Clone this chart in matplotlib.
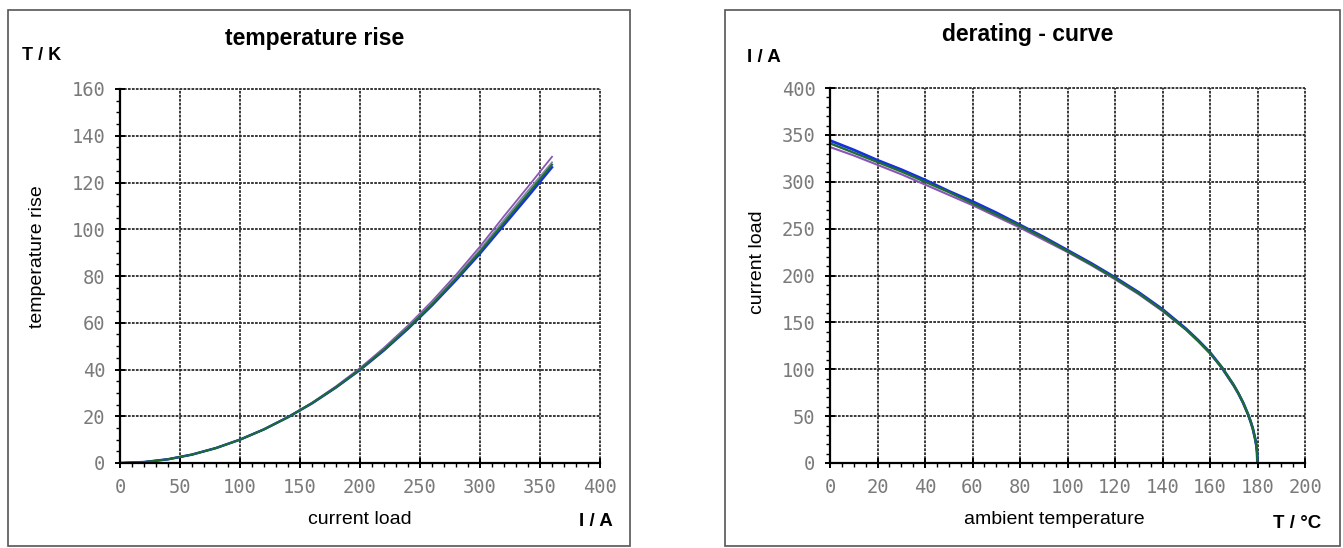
import matplotlib.pyplot as plt
from matplotlib.patches import Rectangle
from matplotlib.ticker import MultipleLocator

# temperature rise vs current load
current = [0, 20, 40, 60, 80, 100, 120, 140, 160, 180, 200, 220, 240, 260, 280, 300, 320, 340, 360]
rise_purple = [0, 0.4, 1.6, 3.6, 6.4, 10.0, 14.4, 19.7, 25.8, 32.8, 40.6, 49.3, 58.8, 69.2, 80.5, 92.6, 105.6, 118.2, 131.0]
rise_gray = [0, 0.4, 1.6, 3.6, 6.4, 10.0, 14.4, 19.6, 25.6, 32.5, 40.2, 48.8, 58.2, 68.4, 79.5, 91.3, 104.0, 116.5, 128.6]
rise_green = [0, 0.4, 1.6, 3.6, 6.4, 10.0, 14.4, 19.6, 25.6, 32.4, 40.0, 48.5, 57.8, 67.9, 78.8, 90.4, 102.8, 115.2, 127.6]
rise_blue = [0, 0.4, 1.6, 3.6, 6.4, 10.0, 14.4, 19.6, 25.5, 32.3, 39.8, 48.2, 57.4, 67.4, 78.2, 89.6, 101.8, 114.0, 126.5]

# derating curve: current load vs ambient temperature
ambient = [0, 10, 20, 30, 40, 50, 60, 70, 80, 90, 100, 110, 120, 130, 140, 150, 155, 160, 165,
           170, 172, 174, 176, 177, 178, 179, 179.5, 179.8, 180]
load_blue = [344, 334, 323, 313, 302, 290, 279, 267, 254, 241, 227, 213, 198, 182, 164, 143,
             131, 118, 102, 83, 74, 64, 52, 45, 37, 26, 19, 12, 0]
load_green = [341, 331, 321, 311, 300, 289, 277, 265, 253, 240, 226, 212, 197, 181, 163, 142,
              130, 117, 102, 83, 74, 64, 52, 45, 37, 26, 19, 12, 0]
load_purple = [337, 328, 318, 308, 297, 286, 275, 263, 251, 238, 225, 211, 196, 180, 162, 142,
               130, 117, 101, 82, 74, 64, 52, 45, 37, 26, 19, 12, 0]

PURPLE = "#8a55b8"
GRAY = "#7a8a9a"
GREEN = "#1d6b35"
BLUE = "#1530e0"

fig = plt.figure(figsize=(13.43, 5.48), dpi=100)
W, H = 1343.0, 548.0

# frames round each chart
fig.patches.append(Rectangle((8 / W, 1 - 546 / H), 622 / W, 536 / H,
                             transform=fig.transFigure, fill=False,
                             edgecolor="#555555", linewidth=1.2))
fig.patches.append(Rectangle((725 / W, 1 - 546 / H), 615 / W, 536 / H,
                             transform=fig.transFigure, fill=False,
                             edgecolor="#555555", linewidth=1.2))


def style_axes(ax, xmaj, xmin, ymaj, ymin):
    ax.xaxis.set_major_locator(MultipleLocator(xmaj))
    ax.xaxis.set_minor_locator(MultipleLocator(xmin))
    ax.yaxis.set_major_locator(MultipleLocator(ymaj))
    ax.yaxis.set_minor_locator(MultipleLocator(ymin))
    ax.grid(True, which="major", color="#2a2a2a", linestyle=(0, (1.5, 0.7)), linewidth=1.3)
    for gl in ax.get_xgridlines() + ax.get_ygridlines():
        gl.set_clip_on(False)
    ax.set_axisbelow(True)
    for s in ["top", "right"]:
        ax.spines[s].set_visible(False)
    for s in ["left", "bottom"]:
        ax.spines[s].set_linewidth(1.6)
        ax.spines[s].set_color("black")
    ax.tick_params(which="major", direction="inout", length=7, width=1.4,
                   labelsize=13.5, labelcolor="#7a7a7a", pad=7)
    ax.tick_params(which="minor", direction="out", length=3, width=1.0)
    for lab in ax.get_xticklabels() + ax.get_yticklabels():
        lab.set_family("DejaVu Sans Mono")


# left chart
ax1 = fig.add_axes([120 / W, 1 - 463 / H, 480 / W, 374 / H])
ax1.plot(current, rise_purple, color=PURPLE, linewidth=1.3)
ax1.plot(current, rise_gray, color=GRAY, linewidth=1.3)
ax1.plot(current, rise_blue, color=BLUE, linewidth=1.8)
ax1.plot(current, rise_green, color=GREEN, linewidth=1.5)
ax1.set_xlim(0, 400)
ax1.set_ylim(0, 160)
style_axes(ax1, 50, 10, 20, 5)

# right chart
ax2 = fig.add_axes([830 / W, 1 - 463 / H, 475 / W, 375 / H])
ax2.plot(ambient, load_purple, color=PURPLE, linewidth=1.5)
ax2.plot(ambient, load_blue, color=BLUE, linewidth=2.0)
ax2.plot(ambient, load_green, color=GREEN, linewidth=1.7)
ax2.set_xlim(0, 200)
ax2.set_ylim(0, 400)
style_axes(ax2, 20, 5, 50, 10)

txt = dict(family="Liberation Sans", color="black")
fig.text(315 / W, 1 - 38 / H, "temperature rise", fontsize=16.5, weight="bold", ha="center", va="center", **txt)
fig.text(22 / W, 1 - 55 / H, "T / K", fontsize=13, weight="bold", ha="left", va="center", **txt)
fig.text(37 / W, 1 - 257 / H, "temperature rise", fontsize=14, rotation=90, ha="center", va="center", **txt)
fig.text(360 / W, 1 - 519 / H, "current load", fontsize=14, ha="center", va="center", **txt)
fig.text(613 / W, 1 - 521 / H, "I / A", fontsize=13.5, weight="bold", ha="right", va="center", **txt)

fig.text(1028 / W, 1 - 35 / H, "derating - curve", fontsize=16.5, weight="bold", ha="center", va="center", **txt)
fig.text(747 / W, 1 - 57 / H, "I / A", fontsize=13.5, weight="bold", ha="left", va="center", **txt)
fig.text(758 / W, 1 - 262 / H, "current load", fontsize=14, rotation=90, ha="center", va="center", **txt)
fig.text(1054 / W, 1 - 520 / H, "ambient temperature", fontsize=14, ha="center", va="center", **txt)
fig.text(1321 / W, 1 - 523 / H, "T / °C", fontsize=13.5, weight="bold", ha="right", va="center", **txt)

fig.savefig("out.png", dpi=100)
